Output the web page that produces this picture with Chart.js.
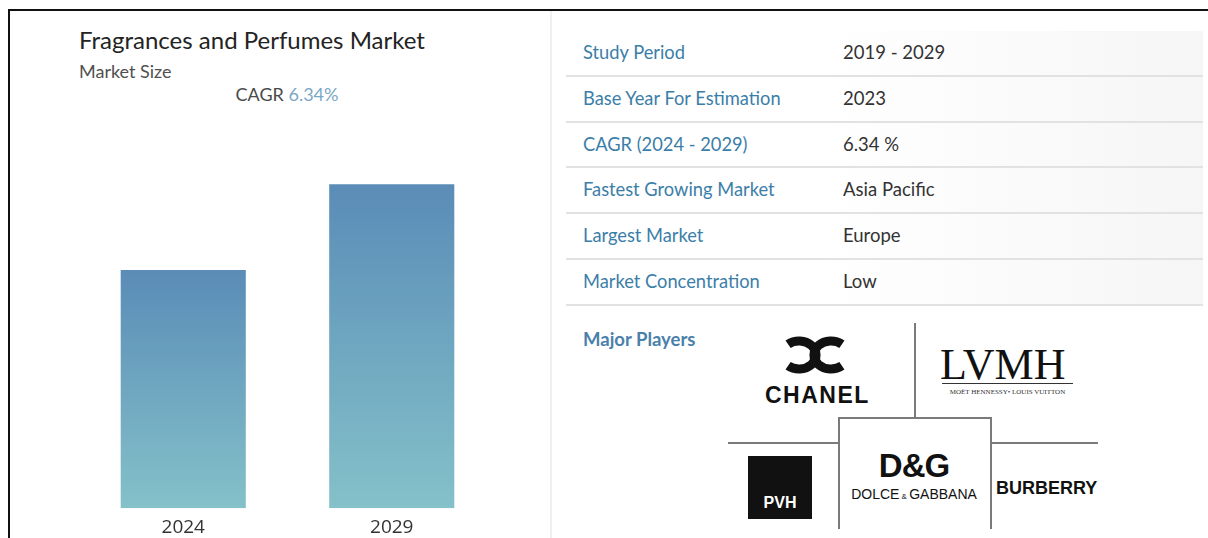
<!DOCTYPE html>
<html>
<head>
<meta charset="utf-8">
<script src="https://cdn.jsdelivr.net/npm/chart.js@4.4.1/dist/chart.umd.min.js"></script>
<style>
  html, body { margin: 0; padding: 0; background: #fff; }
  body { width: 1208px; height: 538px; position: relative; overflow: hidden; font-family: Lato, "Open Sans", sans-serif; }
  .abs { position: absolute; white-space: nowrap; }
  #frameTop { left: 8px; top: 9px; width: 1200px; height: 2px; background: #111; }
  #frameLeft { left: 8px; top: 9px; width: 2px; height: 529px; background: #111; }
  #split { left: 550px; top: 11px; width: 2px; height: 527px; background: #f0f0f0; }
  #title { left: 79px; top: 28px; font-size: 24px; line-height: 24px; color: #232323; }
  #subtitle { left: 79px; top: 62px; font-size: 18px; line-height: 18px; color: #505050; }
  #cagr { left: 79px; width: 416px; top: 85px; text-align: center; font-size: 18px; line-height: 18px; color: #4a4a4a; }
  #cagr span { color: #7ba7c8; }
  #chartBox { left: 79px; top: 79px; width: 417px; height: 468px; }
  #table { left: 566px; top: 31px; width: 637px; }
  .row { height: 43.8px; border-bottom: 2px solid #e2e2e2; position: relative;
         background: linear-gradient(to right, #fff 40%, #f6f6f6 100%); }
  .row .lab { position: absolute; left: 17px; line-height: 43.8px; font-size: 18.3px; color: #3b7ea8; }
  .row .val { position: absolute; left: 277px; line-height: 43.8px; font-size: 18.5px; color: #333; }
  #players { left: 583px; top: 330px; font-size: 18.5px; line-height: 18px; color: #4a80aa; font-weight: bold; }
  .ln { position: absolute; background: #7a7a7a; }
  .logo { position: absolute; white-space: nowrap; font-family: "Liberation Sans", Arial, sans-serif; color: #111; }
</style>
</head>
<body>
<div class="abs" id="frameTop"></div>
<div class="abs" id="frameLeft"></div>
<div class="abs" id="split"></div>

<div class="abs" id="title">Fragrances and Perfumes Market</div>
<div class="abs" id="subtitle">Market Size</div>
<div class="abs" id="cagr">CAGR <span>6.34%</span></div>
<div class="abs" id="chartBox"><canvas id="marketChart"></canvas></div>

<div class="abs" id="table"></div>
<div class="abs" id="players">Major Players</div>

<!-- logo grid -->
<div class="ln" style="left:914px; top:323px; width:1.5px; height:94px;"></div>
<div class="ln" style="left:728px; top:442px; width:110px; height:1.5px;"></div>
<div class="ln" style="left:990px; top:442px; width:108px; height:1.5px;"></div>
<div class="ln" style="left:838px; top:417px; width:153px; height:1.5px;"></div>
<div class="ln" style="left:838px; top:417px; width:1.5px; height:112px;"></div>
<div class="ln" style="left:990px; top:417px; width:1.5px; height:112px;"></div>

<svg class="abs" style="left:781px; top:333px;" width="72" height="44">
  <path d="M7.1 11.3 A17 14 0 1 1 7.1 32.7" fill="none" stroke="#111" stroke-width="9"/>
  <path d="M60.9 11.3 A17 14 0 1 0 60.9 32.7" fill="none" stroke="#111" stroke-width="9"/>
</svg>
<div class="logo" style="left:765px; top:384px; font-size:23px; line-height:23px; font-weight:bold; letter-spacing:1.5px;">CHANEL</div>

<div class="logo" style="left:940px; top:343px; font-family:'Liberation Serif', serif; font-size:44px; line-height:44px;">LVMH</div>
<div class="ln" style="left:942px; top:383px; width:131px; height:1px; background:#333;"></div>
<div class="logo" style="left:942px; top:389px; width:131px; text-align:center; font-family:'Liberation Serif', serif; font-size:7px; line-height:7px; color:#333;">MOËT HENNESSY• LOUIS VUITTON</div>

<div class="abs" style="left:748px; top:456px; width:64px; height:63px; background:#111;"></div>
<div class="logo" style="left:748px; top:495px; width:64px; text-align:center; font-size:16px; line-height:16px; font-weight:bold; color:#fff;">PVH</div>

<div class="logo" style="left:838px; top:449px; width:152px; text-align:center; font-size:33px; line-height:33px; font-weight:bold; letter-spacing:-1px;">D&amp;G</div>
<div class="logo" style="left:838px; top:487px; width:152px; text-align:center; font-family:'Liberation Sans Narrow','Liberation Sans',sans-serif; font-size:14px; line-height:14px;">DOLCE<span style="font-size:8px;"> &amp; </span>GABBANA</div>

<div class="logo" style="left:996px; top:479px; font-size:18px; line-height:18px; font-weight:bold;">BURBERRY</div>

<script>
// Chart data
const years = ['2024', '2029'];
const marketSize = [55.48, 75.45]; // USD billion
const yMax = 100;

// Study table
const studyLabels = ['Study Period', 'Base Year For Estimation', 'CAGR (2024 - 2029)',
  'Fastest Growing Market', 'Largest Market', 'Market Concentration'];
const studyValues = ['2019 - 2029', '2023', '6.34 %', 'Asia Pacific', 'Europe', 'Low'];

const barTop = '#5a8cb7';
const barBottom = '#84c1c9';

function buildTable() {
  const table = document.getElementById('table');
  studyLabels.forEach((label, i) => {
    const row = document.createElement('div');
    row.className = 'row';
    row.innerHTML = `<span class="lab">${label}</span><span class="val">${studyValues[i]}</span>`;
    table.appendChild(row);
  });
}

// gradient per bar, from its top down to zero
function barGradient(context) {
  const chart = context.chart;
  const yScale = chart.scales.y;
  if (!chart.chartArea || !yScale) return barTop;
  const top = yScale.getPixelForValue(context.raw);
  const bottom = yScale.getPixelForValue(0);
  const g = chart.ctx.createLinearGradient(0, top, 0, bottom);
  g.addColorStop(0, barTop);
  g.addColorStop(1, barBottom);
  return g;
}

function createChart() {
  const ctx = document.getElementById('marketChart');
  new Chart(ctx, {
    type: 'bar',
    data: {
      labels: years,
      datasets: [{
        label: 'Market Size',
        data: marketSize,
        backgroundColor: barGradient,
        borderWidth: 0,
        barPercentage: 0.6,
        categoryPercentage: 1.0
      }]
    },
    options: {
      responsive: true,
      maintainAspectRatio: false,
      animation: false,
      layout: { padding: 0 },
      plugins: { legend: { display: false }, tooltip: { enabled: false } },
      scales: {
        x: {
          grid: { display: false, drawTicks: false },
          border: { display: false },
          ticks: { color: '#333', padding: 8, font: { family: 'Open Sans', size: 19 } }
        },
        y: { display: false, min: 0, max: yMax }
      }
    }
  });
}

buildTable();
createChart();
</script>
</body>
</html>
